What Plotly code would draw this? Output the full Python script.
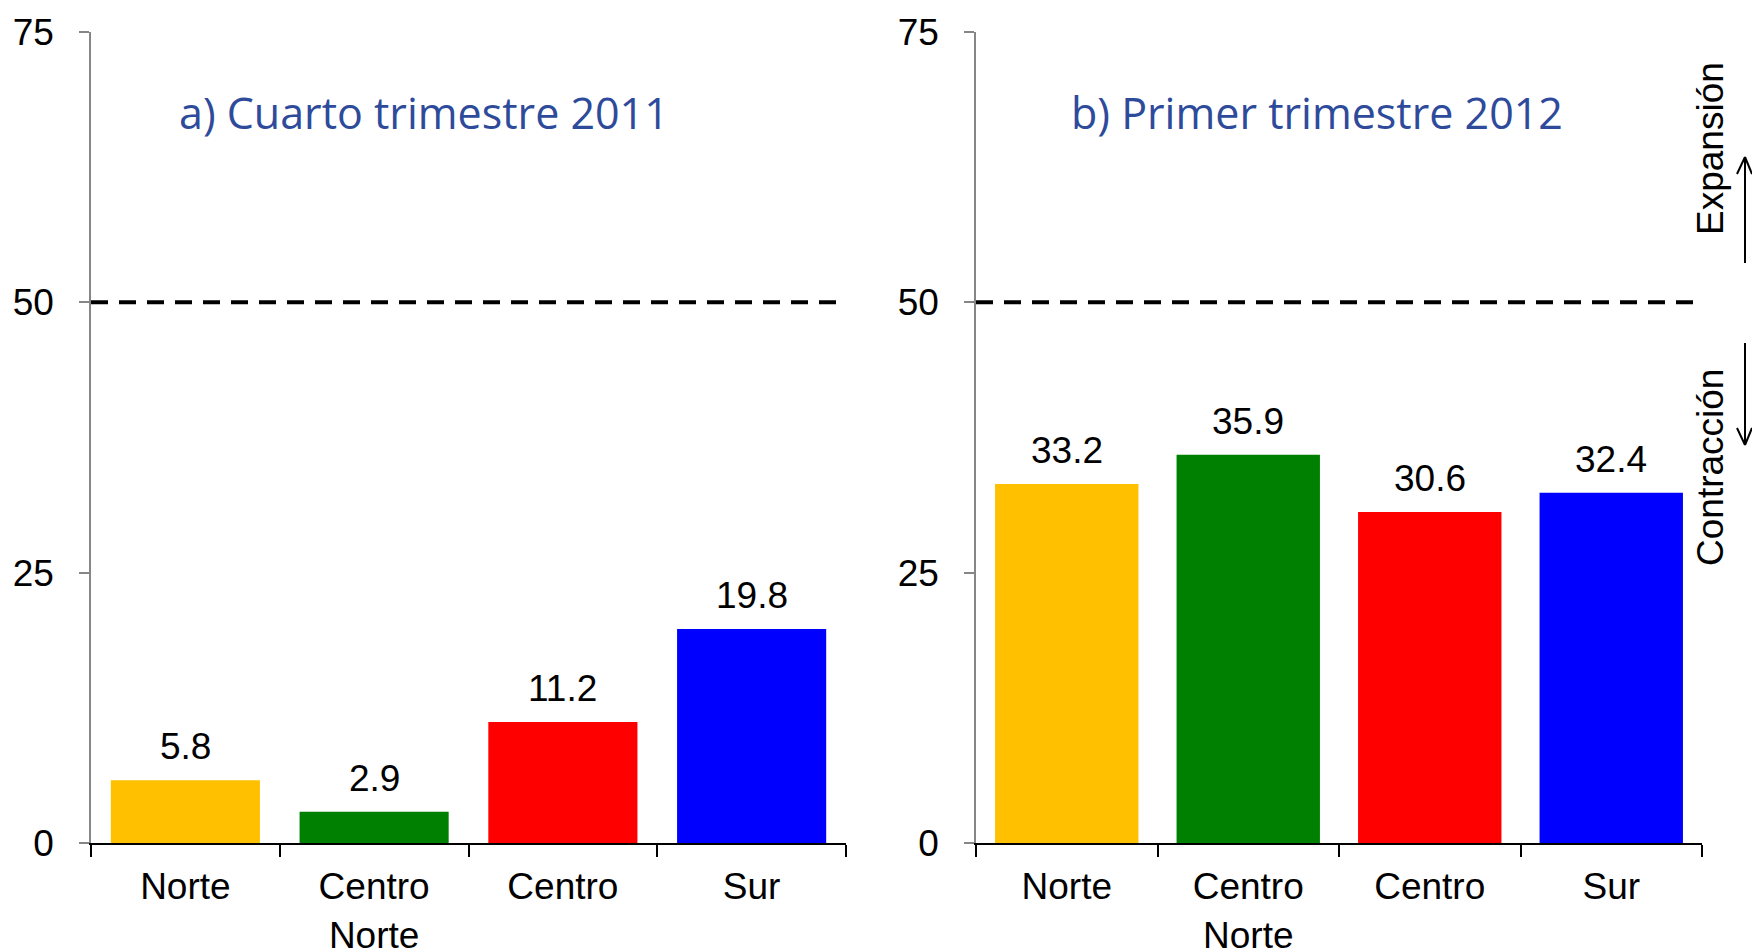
import plotly.graph_objects as go

categories = ["Norte", "Centro<br>Norte", "Centro", "Sur"]
values_q4_2011 = [5.8, 2.9, 11.2, 19.8]
values_q1_2012 = [33.2, 35.9, 30.6, 32.4]
bar_colors = ["#FFC000", "#008000", "#FF0000", "#0000FF"]
titles = ["a) Cuarto trimestre 2011", "b) Primer trimestre 2012"]
y_ticks = [0, 25, 50, 75]
threshold = 50
side_labels = ["Expansión", "Contracción"]

W, H = 1752, 950
PT, PB = 32, 843  # pixel y of top/bottom of plot area
AX_FONT = dict(family="Liberation Sans, Arial", size=37, color="black")


def px(p):
    return p / W


def py(p):
    return (PB - p) / (PB - PT)


fig = go.Figure()
fig.add_trace(go.Bar(x=categories, y=values_q4_2011, marker=dict(color=bar_colors, line_width=0),
                     xaxis="x", yaxis="y", showlegend=False, hoverinfo="skip"))
fig.add_trace(go.Bar(x=categories, y=values_q1_2012, marker=dict(color=bar_colors, line_width=0),
                     xaxis="x2", yaxis="y2", showlegend=False, hoverinfo="skip"))

xcommon = dict(type="category", showline=True, linecolor="black", linewidth=2,
               ticks="outside", tickson="boundaries", ticklen=12, tickwidth=2, tickcolor="black",
               tickfont=AX_FONT, showgrid=False, zeroline=False, range=[-0.5, 3.5],
               ticklabelstandoff=10, automargin=False, fixedrange=True)
ycommon = dict(range=[0, 75], tickvals=y_ticks, showline=True, linecolor="#868686", linewidth=1.5,
               ticks="outside", ticklen=10, tickwidth=1.5, tickcolor="#868686",
               tickfont=AX_FONT, showgrid=False, zeroline=False, ticklabelstandoff=18,
               automargin=False, fixedrange=True)

fig.update_layout(
    width=W, height=H,
    margin=dict(l=0, r=0, t=PT, b=H - PB),
    paper_bgcolor="white", plot_bgcolor="white",
    bargap=0.21,
    xaxis=dict(domain=[px(91), px(846)], anchor="y", **xcommon),
    yaxis=dict(domain=[0, 1], anchor="x", **ycommon),
    xaxis2=dict(domain=[px(976), px(1702)], anchor="y2", **xcommon),
    yaxis2=dict(domain=[0, 1], anchor="x2", **ycommon),
)

# threshold dashed lines
for xr, yr in [("x domain", "y"), ("x2 domain", "y2")]:
    fig.add_shape(type="line", xref=xr, yref=yr, x0=0, x1=1, y0=threshold, y1=threshold,
                  line=dict(color="black", width=4, dash="17px,11px"), layer="above")

# data labels
for xa, ya, vals in [("x", "y", values_q4_2011), ("x2", "y2", values_q1_2012)]:
    for c, v in zip(categories, vals):
        fig.add_annotation(x=c, y=v, xref=xa, yref=ya, text=f"{v:.1f}", showarrow=False,
                           yanchor="bottom", yshift=11, font=AX_FONT)

# panel titles
title_font = dict(family="Open Sans", size=43, color="#2E4B9B")
fig.add_annotation(x=px(424), y=py(113), xref="paper", yref="paper", text=titles[0],
                   showarrow=False, font=title_font, xanchor="center", yanchor="middle")
fig.add_annotation(x=px(1317), y=py(113), xref="paper", yref="paper", text=titles[1],
                   showarrow=False, font=title_font, xanchor="center", yanchor="middle")

# side labels
fig.add_annotation(x=px(1710), y=py(149), xref="paper", yref="paper", text=side_labels[0],
                   textangle=-90, showarrow=False, font=AX_FONT, xanchor="center", yanchor="middle")
fig.add_annotation(x=px(1710), y=py(468), xref="paper", yref="paper", text=side_labels[1],
                   textangle=-90, showarrow=False, font=AX_FONT, xanchor="center", yanchor="middle")

# arrows (open V heads), drawn as line segments
arrow_line = dict(color="black", width=2)
ax_x = 1745
segments = [
    # up arrow
    (ax_x, 263, ax_x, 157), (ax_x - 8, 174, ax_x, 157), (ax_x + 7, 174, ax_x, 157),
    # down arrow
    (ax_x, 343, ax_x, 445), (ax_x - 8, 428, ax_x, 445), (ax_x + 7, 428, ax_x, 445),
]
for x0, y0, x1, y1 in segments:
    fig.add_shape(type="line", xref="paper", yref="paper",
                  x0=px(x0), y0=py(y0), x1=px(x1), y1=py(y1), line=arrow_line)

fig.write_html(
    "out.html",
    config={"displayModeBar": False},
    post_script="document.body.style.margin='0';document.body.style.overflow='hidden';"
                "document.documentElement.style.overflow='hidden';",
)
